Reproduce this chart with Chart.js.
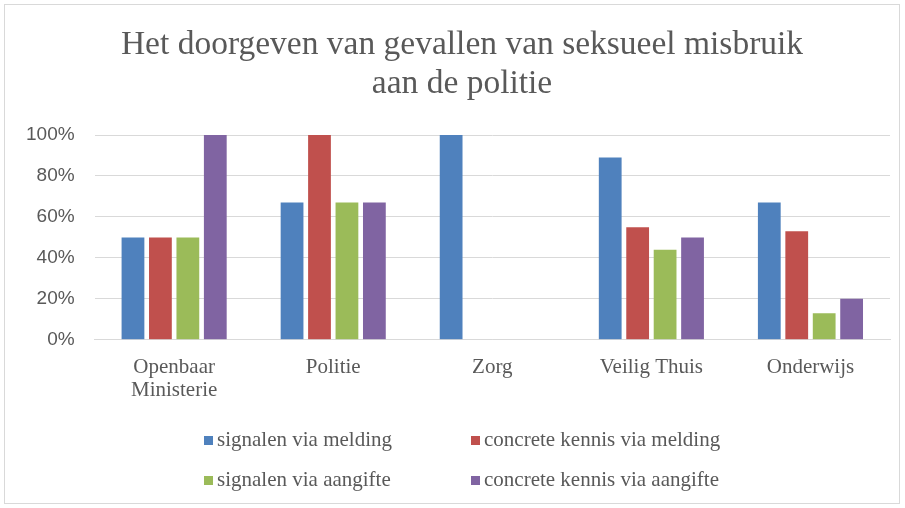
<!DOCTYPE html>
<html>
<head>
<meta charset="utf-8">
<script src="https://cdn.jsdelivr.net/npm/chart.js@4"></script>
<style>
  html, body { margin: 0; padding: 0; background: #fff; }
  #wrap { position: absolute; left: 4px; top: 4px; width: 896px; height: 500px; border: 1px solid #d9d9d9; box-sizing: border-box; }
  #box { position: absolute; left: -5px; top: -5px; width: 905px; height: 508px; }
</style>
</head>
<body>
<div id="wrap"><div id="box"><canvas id="chart"></canvas></div></div>
<script>
// categories and series (percentages)
var categories = [["Openbaar", "Ministerie"], "Politie", "Zorg", "Veilig Thuis", "Onderwijs"];
var signalenMelding = [50, 67, 100, 89, 67];
var kennisMelding = [50, 100, 0, 55, 53];
var signalenAangifte = [50, 67, 0, 44, 13];
var kennisAangifte = [100, 67, 0, 50, 20];
var seriesNames = ["signalen via melding", "concrete kennis via melding", "signalen via aangifte", "concrete kennis via aangifte"];
var yTicks = [0, 20, 40, 60, 80, 100];
var titleLines = ["Het doorgeven van gevallen van seksueel misbruik", "aan de politie"];

var colors = ["#4f81bd", "#c0504d", "#9bbb59", "#8064a2"];
var serif = "'Liberation Serif', 'DejaVu Serif', serif";
var grey = "#595959";

// title and 2 x 2 legend drawn by hand, positioned like the original
var decorations = {
    id: "decorations",
    afterDraw: function (chart) {
        var ctx = chart.ctx;
        ctx.save();
        ctx.fillStyle = grey;
        ctx.textBaseline = "middle";
        ctx.textAlign = "center";
        ctx.font = "33.5px " + serif;
        titleLines.forEach(function (line, i) {
            ctx.fillText(line, 462, 45 + i * 39);
        });

        var cols = [204, 471];
        var rows = [440, 480];
        ctx.textAlign = "left";
        ctx.font = "21px " + serif;
        chart.data.datasets.forEach(function (ds, i) {
            var x = cols[i % 2];
            var y = rows[Math.floor(i / 2)];
            ctx.fillStyle = ds.backgroundColor;
            ctx.fillRect(x, y - 4, 9, 9);
            ctx.fillStyle = grey;
            ctx.fillText(ds.label, x + 13, y);
        });
        ctx.restore();
    }
};

var ctx = document.getElementById("chart").getContext("2d");
new Chart(ctx, {
    type: "bar",
    data: {
        labels: categories,
        datasets: [
            { label: seriesNames[0], data: signalenMelding, backgroundColor: colors[0] },
            { label: seriesNames[1], data: kennisMelding, backgroundColor: colors[1] },
            { label: seriesNames[2], data: signalenAangifte, backgroundColor: colors[2] },
            { label: seriesNames[3], data: kennisAangifte, backgroundColor: colors[3] }
        ]
    },
    options: {
        responsive: true,
        maintainAspectRatio: false,
        animation: false,
        datasets: { bar: { barPercentage: 0.83, categoryPercentage: 0.69 } },
        layout: { padding: { left: 6, right: 15, top: 135, bottom: 98 } },
        plugins: {
            legend: { display: false },
            tooltip: { enabled: false },
            title: { display: false }
        },
        scales: {
            x: {
                grid: { display: false },
                border: { color: "#d9d9d9" },
                ticks: { color: grey, font: { family: serif, size: 21, lineHeight: 1.1 }, padding: 8, maxRotation: 0 }
            },
            y: {
                min: 0,
                max: 100,
                afterBuildTicks: function (axis) {
                    axis.ticks = yTicks.map(function (v) { return { value: v }; });
                },
                grid: { color: "#d9d9d9", drawTicks: false },
                border: { display: false },
                ticks: {
                    color: grey,
                    font: { family: "'Liberation Sans', 'Open Sans', sans-serif", size: 19 },
                    padding: 20,
                    callback: function (v) { return v + "%"; }
                }
            }
        }
    },
    plugins: [decorations]
});
</script>
</body>
</html>
